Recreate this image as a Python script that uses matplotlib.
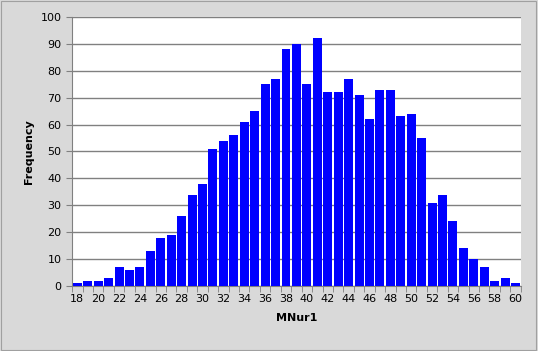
import numpy as np
import matplotlib
matplotlib.use('Agg')
from matplotlib import pyplot as plt

bins = list(range(18, 61))
freq = [1, 2, 2, 3, 7, 6, 7, 13, 18, 19, 26, 34, 38, 51, 54, 56, 61, 65, 75, 77,
        88, 90, 75, 92, 72, 72, 77, 71, 62, 73, 73, 63, 64, 55, 31, 34, 24, 14,
        10, 7, 2, 3, 1]

fig = plt.figure(figsize=(5.38, 3.51), dpi=100, facecolor='#d9d9d9')
ax = fig.add_axes([0.134, 0.185, 0.834, 0.767])
ax.set_facecolor('white')

x = np.arange(len(bins))
ax.bar(x, freq, width=0.86, color='#0000ff', zorder=3)

ax.set_xlim(-0.5, len(bins) - 0.5)
ax.set_ylim(0, 100)
ax.set_yticks(range(0, 101, 10))
ax.yaxis.grid(True, color='#808080', linewidth=1.0, zorder=0)

lab_pos = [i for i, b in enumerate(bins) if b % 2 == 0]
ax.set_xticks(lab_pos)
ax.set_xticklabels([str(bins[i]) for i in lab_pos], fontsize=8)
ax.set_xticks(np.arange(-0.5, len(bins), 1), minor=True)
ax.tick_params(axis='x', which='major', length=0, pad=6)
ax.tick_params(axis='x', which='minor', length=4, color='#808080', direction='out')
ax.tick_params(axis='y', length=4, color='#808080', labelsize=8)

for s in ['top', 'right']:
    ax.spines[s].set_visible(False)
for s in ['left', 'bottom']:
    ax.spines[s].set_color('#808080')

ax.set_xlabel('MNur1', fontsize=8, fontweight='bold', labelpad=6)
ax.set_ylabel('Frequency', fontsize=8, fontweight='bold', labelpad=5)

fig.patches.append(plt.Rectangle((0.002, 0.003), 0.995, 0.994, transform=fig.transFigure,
                                 fill=False, edgecolor='#a0a0a0', linewidth=0.8))

fig.savefig('out.png', dpi=100, facecolor=fig.get_facecolor())
